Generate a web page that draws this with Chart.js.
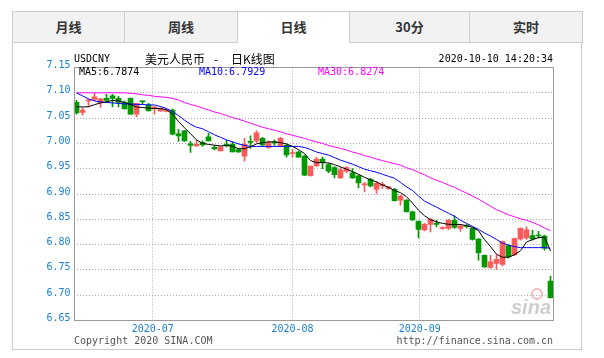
<!DOCTYPE html>
<html>
<head>
<meta charset="utf-8">
<script src="https://cdn.jsdelivr.net/npm/chart.js@4/dist/chart.umd.min.js"></script>
<style>
  html, body { margin: 0; padding: 0; background: #fff; }
  #wrap { position: relative; width: 604px; height: 358px; overflow: hidden; }
  #box { position: absolute; left: 12px; top: 42px; width: 570px; height: 308px; box-sizing: border-box; border: 1px solid #ccc; border-top: none; }
  .tab { position: absolute; top: 11px; height: 32px; box-sizing: border-box; border: 1px solid #ccc; background: #f2f2f2;
         font: bold 13px "Noto Sans CJK SC", sans-serif; color: #333; text-align: center; line-height: 30px; }
  .tab.on { background: #fff; border-bottom-color: #fff; }
  canvas { position: absolute; left: 0; top: 0; }
</style>
</head>
<body>
<div id="wrap">
  <div id="box"></div>
  <div id="tabs"></div>
  <canvas id="kline" width="604" height="358"></canvas>
</div>
<script>
// tab bar
const tabNames = ["月线", "周线", "日线", "30分", "实时"];
const tabEdges = [12, 124, 237, 349, 469, 582];
const activeTab = 2;

// daily candles, 2020-06 .. 2020-10-09
const opens = [7.081, 7.061, 7.084, 7.087, 7.081, 7.089, 7.094, 7.089, 7.081, 7.089,
  7.058, 7.083, 7.076, 7.070, 7.064, 7.063, 7.066, 7.019, 7.025, 6.999,
  6.995, 7.002, 7.013, 6.992, 6.985, 6.998, 6.998, 6.988, 6.975, 7.004,
  7.005, 7.010, 6.992, 7.003, 6.995, 6.996, 6.980, 6.983, 6.975, 6.936,
  6.956, 6.969, 6.958, 6.952, 6.932, 6.945, 6.942, 6.936, 6.918, 6.929,
  6.909, 6.916, 6.911, 6.909, 6.888, 6.888, 6.865, 6.846, 6.829, 6.840,
  6.842, 6.832, 6.832, 6.848, 6.832, 6.838, 6.832, 6.811, 6.779, 6.755,
  6.763, 6.761, 6.798, 6.780, 6.811, 6.813, 6.818, 6.819, 6.817, 6.728];
const highs = [7.085, 7.071, 7.087, 7.099, 7.089, 7.097, 7.097, 7.093, 7.084, 7.090,
  7.079, 7.084, 7.079, 7.074, 7.071, 7.068, 7.068, 7.028, 7.026, 7.004,
  7.006, 7.005, 7.020, 6.996, 6.993, 7.006, 7.003, 6.990, 7.010, 7.015,
  7.025, 7.012, 7.005, 7.007, 7.012, 6.998, 6.988, 6.985, 6.977, 6.955,
  6.973, 6.973, 6.960, 6.954, 6.952, 6.954, 6.950, 6.938, 6.923, 6.931,
  6.925, 6.923, 6.915, 6.911, 6.898, 6.889, 6.866, 6.847, 6.842, 6.852,
  6.848, 6.835, 6.850, 6.857, 6.840, 6.840, 6.833, 6.812, 6.780, 6.779,
  6.780, 6.807, 6.799, 6.813, 6.833, 6.835, 6.828, 6.826, 6.819, 6.738];
const lows = [7.058, 7.056, 7.072, 7.084, 7.071, 7.081, 7.072, 7.072, 7.068, 7.058,
  7.053, 7.077, 7.064, 7.058, 7.063, 7.062, 7.017, 7.004, 7.004, 6.982,
  6.994, 6.994, 7.005, 6.987, 6.985, 6.993, 6.983, 6.982, 6.965, 6.990,
  7.001, 6.995, 6.990, 6.996, 6.993, 6.973, 6.973, 6.973, 6.936, 6.935,
  6.954, 6.950, 6.942, 6.932, 6.931, 6.942, 6.931, 6.912, 6.904, 6.914,
  6.901, 6.911, 6.909, 6.886, 6.878, 6.864, 6.848, 6.813, 6.827, 6.825,
  6.835, 6.830, 6.830, 6.832, 6.826, 6.833, 6.809, 6.769, 6.755, 6.753,
  6.751, 6.758, 6.773, 6.778, 6.809, 6.810, 6.809, 6.813, 6.789, 6.694];
const closes = [7.060, 7.066, 7.086, 7.092, 7.088, 7.085, 7.089, 7.081, 7.068, 7.058,
  7.079, 7.082, 7.064, 7.071, 7.069, 7.066, 7.018, 7.015, 7.005, 6.996,
  6.998, 6.997, 7.005, 6.989, 6.993, 6.995, 6.983, 6.983, 6.998, 7.002,
  7.021, 6.997, 7.002, 7.001, 7.010, 6.977, 6.982, 6.973, 6.937, 6.955,
  6.969, 6.962, 6.945, 6.938, 6.948, 6.952, 6.932, 6.922, 6.920, 6.916,
  6.921, 6.919, 6.914, 6.887, 6.896, 6.865, 6.849, 6.830, 6.840, 6.850,
  6.840, 6.834, 6.848, 6.834, 6.837, 6.836, 6.810, 6.784, 6.756, 6.766,
  6.771, 6.806, 6.776, 6.812, 6.832, 6.829, 6.811, 6.817, 6.793, 6.695];

// moving averages as drawn
const ma5 = [7.0725, 7.072, 7.0725, 7.0765, 7.080, 7.082, 7.085, 7.084, 7.081, 7.0765,
  7.072, 7.071, 7.0696, 7.069, 7.069, 7.0666, 7.058, 7.043, 7.031, 7.019,
  7.007, 7.000, 6.998, 6.9965, 6.995, 6.996, 6.9945, 6.9895, 6.9895, 6.9935,
  6.999, 7.0015, 7.003, 7.003, 7.0015, 6.999, 6.994, 6.9876, 6.980, 6.966,
  6.962, 6.962, 6.9615, 6.958, 6.9536, 6.949, 6.9443, 6.939, 6.933, 6.928,
  6.924, 6.918, 6.913, 6.907, 6.9026, 6.8947, 6.882, 6.868, 6.857, 6.849,
  6.845, 6.842, 6.840, 6.8398, 6.8398, 6.8374, 6.834, 6.8275, 6.810, 6.796,
  6.781, 6.775, 6.775, 6.780, 6.788, 6.805, 6.810, 6.8137, 6.8147, 6.7874];
const ma10 = [7.0996, 7.094, 7.088, 7.084, 7.082, 7.081, 7.080, 7.079, 7.078, 7.078,
  7.077, 7.077, 7.076, 7.076, 7.073, 7.069, 7.063, 7.055, 7.046, 7.038,
  7.032, 7.029, 7.023, 7.017, 7.012, 7.007, 7.003, 6.999, 6.996, 6.994,
  6.994, 6.994, 6.994, 6.994, 6.994, 6.994, 6.994, 6.994, 6.992, 6.988,
  6.983, 6.980, 6.977, 6.972, 6.967, 6.963, 6.959, 6.954, 6.949, 6.946,
  6.943, 6.939, 6.935, 6.931, 6.923, 6.914, 6.907, 6.896, 6.886, 6.880,
  6.874, 6.868, 6.862, 6.856, 6.848, 6.842, 6.836, 6.830, 6.823, 6.817,
  6.810, 6.803, 6.799, 6.796, 6.794, 6.794, 6.794, 6.794, 6.794, 6.7929];
const ma30 = [7.100, 7.100, 7.100, 7.100, 7.100, 7.100, 7.100, 7.100, 7.100, 7.099,
  7.098, 7.096, 7.095, 7.093, 7.092, 7.091, 7.089, 7.086, 7.081, 7.077,
  7.074, 7.070, 7.066, 7.062, 7.059, 7.055, 7.051, 7.048, 7.044, 7.040,
  7.036, 7.032, 7.029, 7.026, 7.023, 7.019, 7.016, 7.013, 7.010, 7.006,
  7.003, 7.000, 6.996, 6.993, 6.990, 6.987, 6.983, 6.980, 6.976, 6.973,
  6.969, 6.966, 6.963, 6.960, 6.957, 6.952, 6.948, 6.943, 6.938, 6.932,
  6.927, 6.923, 6.918, 6.913, 6.907, 6.902, 6.896, 6.890, 6.883, 6.876,
  6.869, 6.864, 6.859, 6.855, 6.851, 6.848, 6.844, 6.839, 6.833, 6.8274];

const yTicks = [6.65, 6.70, 6.75, 6.80, 6.85, 6.90, 6.95, 7.00, 7.05, 7.10, 7.15];
const monthLabels = ["2020-07", "2020-08", "2020-09"];
const monthStart = [12.7, 36, 57.2];

// drawing settings
const UP = "#fa5a5a", DOWN = "#009a00";
const TICK_BLUE = "#1a7fcf";
const MONO = '10px "DejaVu Sans Mono", monospace';

// tabs
const tabs = document.getElementById("tabs");
tabNames.forEach((name, i) => {
  const d = document.createElement("div");
  d.className = "tab" + (i === activeTab ? " on" : "");
  d.style.left = tabEdges[i] + "px";
  d.style.width = (tabEdges[i + 1] - tabEdges[i] + 1) + "px";
  d.textContent = name;
  tabs.appendChild(d);
});

const candleColor = closes.map((c, i) => c >= opens[i] ? UP : DOWN);

const decor = {
  id: "decor",
  afterDraw(chart) {
    const ctx = chart.ctx;
    ctx.save();
    // plot frame
    ctx.strokeStyle = "#999";
    ctx.lineWidth = 1;
    ctx.strokeRect(74.5, 67.5, 479, 253);

    ctx.textBaseline = "middle";
    ctx.font = MONO;
    ctx.fillStyle = "#000";
    ctx.textAlign = "left";
    ctx.fillText("USDCNY", 74, 59.5);
    ctx.textAlign = "right";
    ctx.fillText("2020-10-10 14:20:34", 553, 59.5);

    ctx.textAlign = "left";
    ctx.font = '12px "Noto Sans CJK SC", sans-serif';
    ctx.fillText("美元人民币", 145, 59.5);
    ctx.fillText("-", 214, 59.5);
    ctx.fillText("日K线图", 231, 59.5);

    // MA legend
    ctx.font = MONO;
    ctx.fillStyle = "#000";
    ctx.fillText("MA5:" + ma5[ma5.length - 1].toFixed(4), 79, 72.5);
    ctx.fillStyle = "#0000ff";
    ctx.fillText("MA10:" + ma10[ma10.length - 1].toFixed(4), 199, 72.5);
    ctx.fillStyle = "#ff00ff";
    ctx.fillText("MA30:" + ma30[ma30.length - 1].toFixed(4), 318, 72.5);

    // footer
    ctx.fillStyle = "#555";
    ctx.fillText("Copyright 2020 SINA.COM", 74, 341.5);
    ctx.textAlign = "right";
    ctx.fillText("http://finance.sina.com.cn", 553, 341.5);

    // sina watermark
    ctx.fillStyle = "rgba(190,190,190,0.75)";
    ctx.font = 'italic bold 20px "Liberation Sans", sans-serif';
    ctx.textAlign = "right";
    ctx.fillText("sina", 551, 308);
    ctx.strokeStyle = "rgba(240,170,170,0.8)";
    ctx.lineWidth = 2;
    ctx.beginPath();
    ctx.arc(537, 294, 5, 0, Math.PI * 2);
    ctx.stroke();
    ctx.restore();
  }
};

const pts = arr => arr.map((v, i) => ({ x: i, y: v }));

new Chart(document.getElementById("kline"), {
  type: "bar",
  data: {
    datasets: [
      { type: "line", label: "MA5", data: pts(ma5), borderColor: "#000", borderWidth: 1, pointRadius: 0, order: 0 },
      { type: "line", label: "MA10", data: pts(ma10), borderColor: "#0000ff", borderWidth: 1, pointRadius: 0, order: 0 },
      { type: "line", label: "MA30", data: pts(ma30), borderColor: "#ff00ff", borderWidth: 1, pointRadius: 0, order: 0 },
      { label: "body", data: opens.map((o, i) => ({ x: i, y: [o, closes[i]] })), backgroundColor: candleColor,
        barThickness: 5, grouped: false, minBarLength: 1, order: 1 },
      { label: "wick", data: lows.map((l, i) => ({ x: i, y: [l, highs[i]] })), backgroundColor: candleColor,
        barThickness: 1, grouped: false, order: 2 }
    ]
  },
  options: {
    responsive: false,
    animation: false,
    layout: { padding: { top: 67.5, right: 50.5, left: 0, bottom: 0 } },
    plugins: { legend: { display: false }, tooltip: { enabled: false } },
    scales: {
      x: {
        type: "linear", min: -0.5, max: 79.5, offset: false,
        afterFit(s) { s.height = 37.5; },
        afterBuildTicks(s) { s.ticks = monthStart.map(v => ({ value: v })); },
        grid: { color: "#aaa", drawTicks: false, offset: false },
        border: { display: false, dash: [1, 2] },
        ticks: { autoSkip: false, maxRotation: 0, padding: 3, color: TICK_BLUE, font: { family: "DejaVu Sans Mono", size: 10 },
                 callback: (v, i) => monthLabels[i] }
      },
      y: {
        min: 6.65, max: 7.15,
        afterFit(s) { s.width = 73.5; },
        afterBuildTicks(s) { s.ticks = yTicks.map(v => ({ value: v })); },
        grid: { color: "#aaa", drawTicks: false },
        border: { display: false, dash: [1, 2] },
        ticks: { padding: 3, labelOffset: -2, color: TICK_BLUE, font: { family: "DejaVu Sans Mono", size: 10 },
                 callback: v => v.toFixed(2) }
      }
    }
  },
  plugins: [decor]
});
</script>
</body>
</html>
